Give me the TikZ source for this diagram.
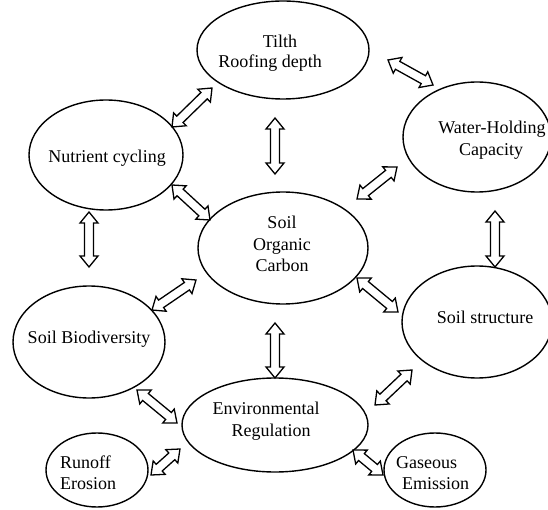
\documentclass[tikz,border=0pt]{standalone}
\usepackage{fontspec}
\setmainfont{Liberation Serif}
\usetikzlibrary{shapes.geometric,calc}

% hollow two-headed arrow between two named points
\newcommand\arrhead{11}
\newcommand\arrwing{9}
\newcommand\arrshaft{4.5}
\newcommand\dblarrow[2]{%
  \path let \p1=(#1), \p2=(#2) in \pgfextra{%
    \pgfmathsetmacro\tmplen{veclen(\x2-\x1,\y2-\y1)}%
    \pgfmathsetmacro\tmpang{atan2(\y2-\y1,\x2-\x1)}%
    \xdef\ArrLen{\tmplen}\xdef\ArrAng{\tmpang}};
  \pgfmathsetmacro\ArrIn{\ArrLen-\arrhead}%
  \begin{scope}[shift={(#1)}, rotate=\ArrAng]
    \draw[twoway] (0pt,0pt) -- (\arrhead pt,\arrwing pt) -- (\arrhead pt,\arrshaft pt)
      -- (\ArrIn pt,\arrshaft pt) -- (\ArrIn pt,\arrwing pt) -- (\ArrLen pt,0pt)
      -- (\ArrIn pt,-\arrwing pt) -- (\ArrIn pt,-\arrshaft pt)
      -- (\arrhead pt,-\arrshaft pt) -- (\arrhead pt,-\arrwing pt) -- cycle;
  \end{scope}}

\begin{document}
\begin{tikzpicture}[x=1pt, y=-1pt,
  blob/.style={ellipse, draw, line width=1.4pt, inner sep=0pt},
  twoway/.style={draw, fill=white, line width=1.3pt, line join=miter},
  txt/.style={inner sep=0pt, anchor=base, font=\fontsize{18}{21.5}\selectfont},
  ltxt/.style={txt, anchor=base west}]
\useasboundingbox (0,0) rectangle (548,510);
\clip (0,0) rectangle (548,510);

% ellipses
\node[blob, minimum width=172pt, minimum height=98pt]  (tilth)     at (283,50)  {};
\node[blob, minimum width=148pt, minimum height=110pt] (water)     at (477,137) {};
\node[blob, minimum width=154pt, minimum height=110pt] (nutrient)  at (106,155) {};
\node[blob, minimum width=170pt, minimum height=112pt] (soc)       at (283,248) {};
\node[blob, minimum width=150pt, minimum height=112pt] (structure) at (477,322) {};
\node[blob, minimum width=152pt, minimum height=112pt] (biodiv)    at (89,342)  {};
\node[blob, minimum width=186pt, minimum height=94pt]  (env)       at (275,425) {};
\node[blob, minimum width=102pt, minimum height=74pt]  (runoff)    at (97,470)  {};
\node[blob, minimum width=102pt, minimum height=74pt]  (gaseous)   at (435,470) {};

% labels
\node[txt] (t1a) at (280,48)  {Tilth};
\node[txt] (t1b) at (270,68)  {Roofing depth};
\node[txt] (t2a) at (492,134) {Water-Holding};
\node[txt] (t2b) at (491,156) {Capacity};
\node[txt] (t3)  at (107,163) {Nutrient cycling};
\node[txt] (t4a) at (282,229) {Soil};
\node[txt] (t4b) at (282,251) {Organic};
\node[txt] (t4c) at (282,272) {Carbon};
\node[txt] (t5)  at (485,323) {Soil structure};
\node[txt] (t6)  at (89,343)  {Soil Biodiversity};
\node[txt] (t7a) at (266,414) {Environmental};
\node[txt] (t7b) at (271,436) {Regulation};
\node[ltxt] (t8a) at (60,468)  {Runoff};
\node[ltxt] (t8b) at (60,489)  {Erosion};
\node[ltxt] (t9a) at (396,468) {Gaseous};
\node[ltxt] (t9b) at (402,489) {Emission};

% arrow end points
\coordinate (a1s) at (172,127); \coordinate (a1e) at (212,88);
\coordinate (a2s) at (275,118); \coordinate (a2e) at (275,174);
\coordinate (a3s) at (172,185); \coordinate (a3e) at (210,220);
\coordinate (a4s) at (357,199); \coordinate (a4e) at (397,167);
\coordinate (a5s) at (388,60);  \coordinate (a5e) at (433,85);
\coordinate (a6s) at (495,211); \coordinate (a6e) at (495,267);
\coordinate (a7s) at (89,212);  \coordinate (a7e) at (89,267);
\coordinate (a8s) at (152,310); \coordinate (a8e) at (196,280);
\coordinate (a9s) at (275,323); \coordinate (a9e) at (275,378);
\coordinate (a10s) at (357,278); \coordinate (a10e) at (398,312);
\coordinate (a11s) at (412,370); \coordinate (a11e) at (375,405);
\coordinate (a12s) at (137,390); \coordinate (a12e) at (177,423);
\coordinate (a13s) at (151,475); \coordinate (a13e) at (180,449);
\coordinate (a14s) at (353,450); \coordinate (a14e) at (383,475);

% two-way links
\dblarrow{a1s}{a1e}
\dblarrow{a2s}{a2e}
\dblarrow{a3s}{a3e}
\dblarrow{a4s}{a4e}
\dblarrow{a5s}{a5e}
\dblarrow{a6s}{a6e}
\dblarrow{a7s}{a7e}
\dblarrow{a8s}{a8e}
\dblarrow{a9s}{a9e}
\dblarrow{a10s}{a10e}
\dblarrow{a11s}{a11e}
\dblarrow{a12s}{a12e}
\dblarrow{a13s}{a13e}
\dblarrow{a14s}{a14e}
\end{tikzpicture}
\end{document}
